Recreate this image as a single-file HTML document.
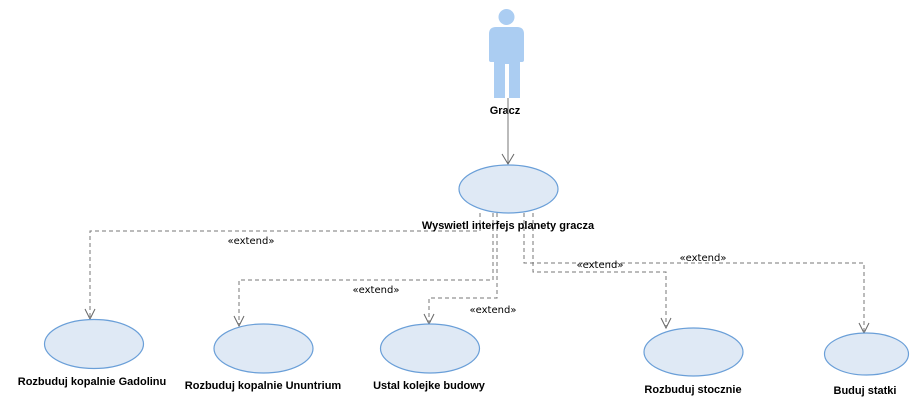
<!DOCTYPE html>
<html><head><meta charset="utf-8"><style>
html,body{margin:0;padding:0;background:#fff;}
svg{display:block;}
.lbl{font-family:"Liberation Sans","DejaVu Sans",sans-serif;font-size:11px;font-weight:bold;fill:#000;text-anchor:middle;}
.ext{font-family:"DejaVu Sans","Liberation Sans",sans-serif;font-size:10px;fill:#000;text-anchor:middle;}
.uc{fill:#dfe9f5;stroke:#6a9fd8;stroke-width:1.2;}
.dash{fill:none;stroke:#777;stroke-width:1;stroke-dasharray:4,3;}
.ah{fill:none;stroke:#666;stroke-width:1;}
</style></head><body>
<svg width="920" height="408" viewBox="0 0 920 408" xmlns="http://www.w3.org/2000/svg">
<g fill="#abcdf2">
<circle cx="506.5" cy="17" r="8"/>
<path d="M496 27 H517 Q524 27 524 34 V60 Q524 62 522 62 H520 V98 H509 V64 H505 V98 H494 V62 H491 Q489 62 489 60 V34 Q489 27 496 27 Z"/>
</g>
<text class="lbl" x="505" y="114">Gracz</text>
<line x1="508" y1="98" x2="508" y2="164" stroke="#777"/>
<path class="ah" d="M502 154 L508 164 L514 154"/>

<g>
<path class="dash" d="M480 213 V231 H90 V318"/>
<path class="ah" d="M85 309 L90 319 L95 309"/>
<path class="dash" d="M493 213 V280 H239 V324"/>
<path class="ah" d="M234 316 L239 326 L244 316"/>
<path class="dash" d="M497 213 V298 H429 V322"/>
<path class="ah" d="M424 314 L429 324 L434 314"/>
<path class="dash" d="M524 213 V263 H864 V331"/>
<path class="ah" d="M859 323 L864 333 L869 323"/>
<path class="dash" d="M533 213 V272 H666 V326"/>
<path class="ah" d="M661 318 L666 328 L671 318"/>
</g>
<text class="ext" x="251" y="244">«extend»</text>
<text class="ext" x="376" y="293">«extend»</text>
<text class="ext" x="493" y="313">«extend»</text>
<text class="ext" x="600" y="268">«extend»</text>
<text class="ext" x="703" y="261">«extend»</text>

<ellipse class="uc" cx="508.5" cy="189" rx="49.5" ry="24"/>
<text class="lbl" x="508" y="229">Wyswietl interfejs planety gracza</text>

<ellipse class="uc" cx="94" cy="344" rx="49.5" ry="24.5"/>
<text class="lbl" x="92" y="385">Rozbuduj kopalnie Gadolinu</text>

<ellipse class="uc" cx="263.5" cy="348.5" rx="49.5" ry="24.5"/>
<text class="lbl" x="263" y="389">Rozbuduj kopalnie Ununtrium</text>

<ellipse class="uc" cx="430" cy="348.5" rx="49.5" ry="24.5"/>
<text class="lbl" x="429" y="389">Ustal kolejke budowy</text>

<ellipse class="uc" cx="693.5" cy="352" rx="49.5" ry="24"/>
<text class="lbl" x="693" y="393">Rozbuduj stocznie</text>

<ellipse class="uc" cx="866.5" cy="354" rx="42" ry="21"/>
<text class="lbl" x="865" y="394">Buduj statki</text>
</svg>
</body></html>
